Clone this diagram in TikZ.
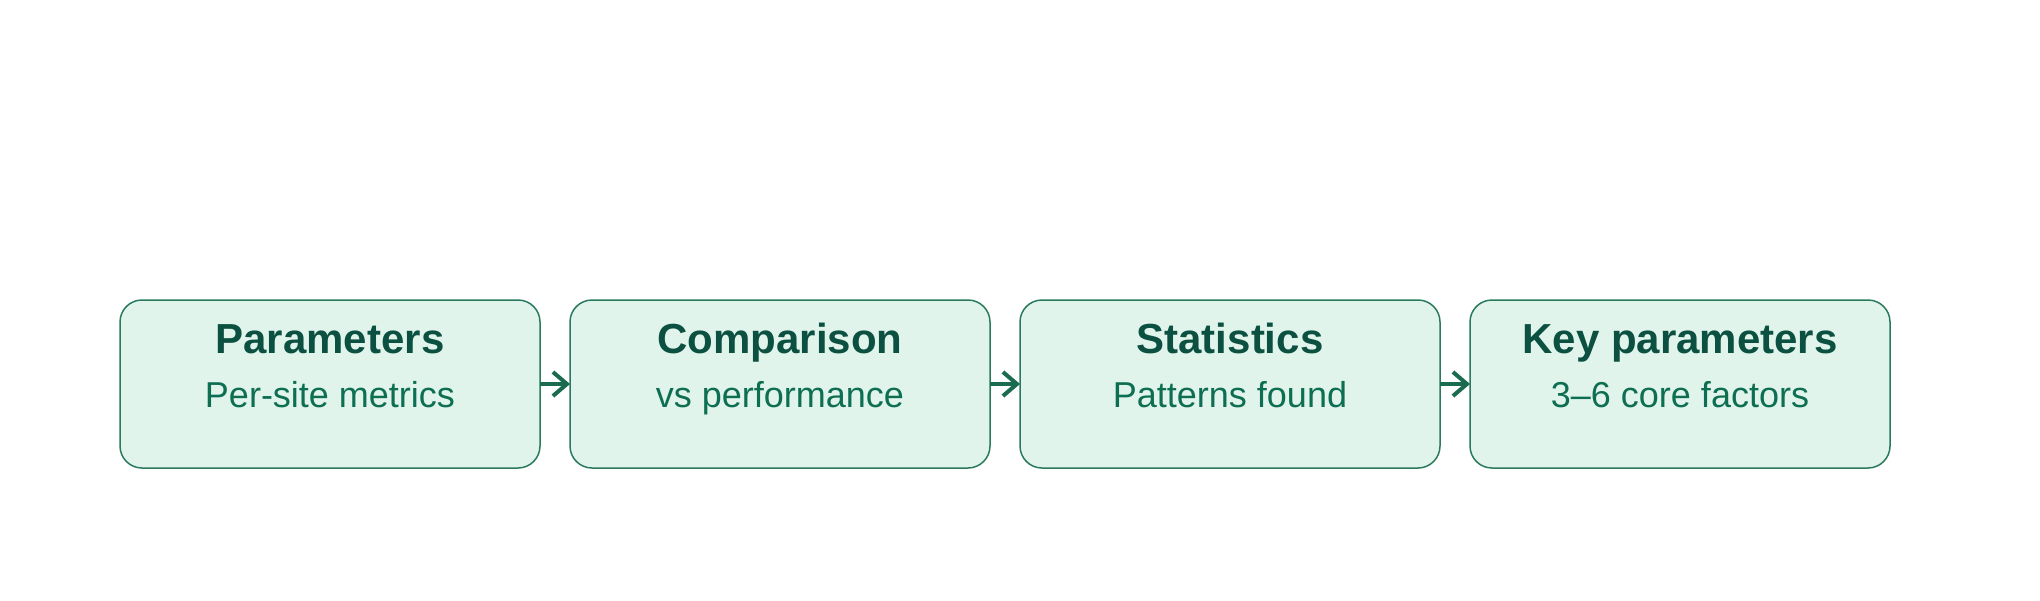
\documentclass[tikz,border=0pt]{standalone}
\usepackage{fontspec}
\setmainfont{Liberation Sans}
\usetikzlibrary{arrows.meta}
\definecolor{boxfill}{HTML}{E0F4EC}
\definecolor{boxline}{HTML}{2A7A5E}
\definecolor{titlecol}{HTML}{0B5040}
\definecolor{subcol}{HTML}{0E6E52}
\definecolor{arrcol}{HTML}{1A6B50}
\tikzset{
  stagebox/.style={draw=boxline, fill=boxfill, line width=1.5pt, rounded corners=22pt,
    minimum width=420pt, minimum height=168pt, inner sep=0pt, outer sep=0pt},
  titletext/.style={font=\fontsize{42}{48}\selectfont\bfseries, text=titlecol, anchor=base, inner sep=0pt},
  subtext/.style={font=\fontsize{36}{42}\selectfont, text=subcol, anchor=base, inner sep=0pt},
  flowarrow/.style={draw=arrcol, line width=4pt, -{Straight Barb[length=14pt,width=24pt,line width=4pt]}}
}
\begin{document}
\begin{tikzpicture}[x=1pt,y=-1pt]
\useasboundingbox (0,0) rectangle (2040,600);
\node[stagebox] (b1) at (330,384) {};
\node[stagebox] (b2) at (780,384) {};
\node[stagebox] (b3) at (1230,384) {};
\node[stagebox] (b4) at (1680,384) {};
\node[titletext] (t1) at (330,353) {Parameters};
\node[subtext] (s1) at (330,407) {Per-site metrics};
\node[titletext] (t2) at (780,353) {Comparison};
\node[subtext] (s2) at (780,407) {vs performance};
\node[titletext] (t3) at (1230,353) {Statistics};
\node[subtext] (s3) at (1230,407) {Patterns found};
\node[titletext] (t4) at (1680,353) {Key parameters};
\node[subtext] (s4) at (1680,407) {3–6 core factors};
\draw[flowarrow] (b1.east) -- (b2.west);
\draw[flowarrow] (b2.east) -- (b3.west);
\draw[flowarrow] (b3.east) -- (b4.west);
\end{tikzpicture}
\end{document}
